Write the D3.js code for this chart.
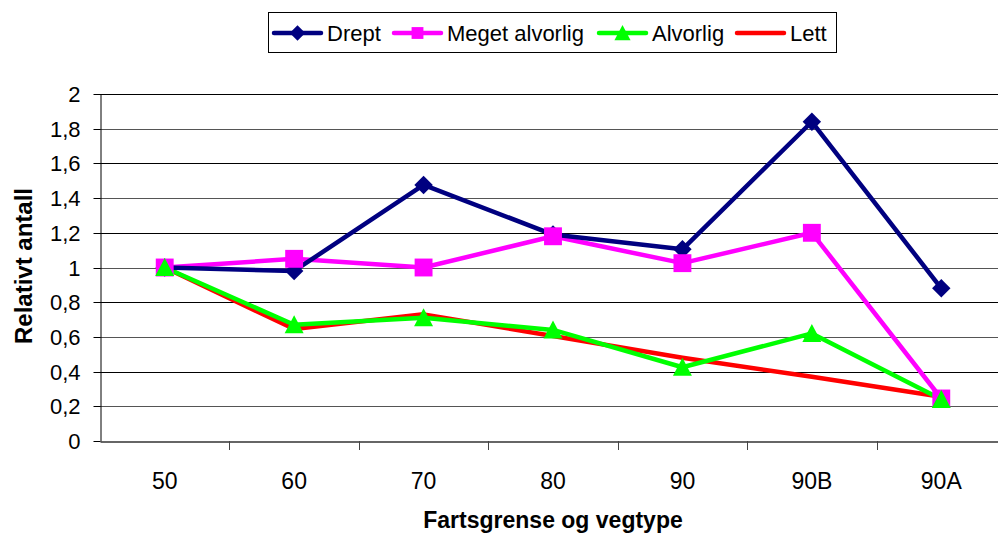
<!DOCTYPE html>
<html>
<head>
<meta charset="utf-8">
<script src="https://cdn.jsdelivr.net/npm/d3@7"></script>
<style>
body { margin: 0; background: #fff; }
svg { display: block; font-family: "Liberation Sans", Arial, sans-serif; }
</style>
</head>
<body>
<script>
// data
var categories = ["50", "60", "70", "80", "90", "90B", "90A"]
var drept = [1, 0.98, 1.476, 1.19, 1.105, 1.84, 0.88]
var megetAlvorlig = [1, 1.05, 1.0, 1.18, 1.025, 1.2, 0.245]
var alvorlig = [1, 0.67, 0.71, 0.64, 0.425, 0.62, 0.24]
var lett = [1, 0.645, 0.73, 0.605, 0.48, 0.37, 0.255]
var yTicks = [0, 0.2, 0.4, 0.6, 0.8, 1, 1.2, 1.4, 1.6, 1.8, 2]

// diamond = square turned 45 degrees
var diamond = {
	draw: function(ctx, size) {
		var r = Math.sqrt(size / 2)
		ctx.moveTo(0, -r); ctx.lineTo(r, 0); ctx.lineTo(0, r); ctx.lineTo(-r, 0); ctx.closePath()
	}
}
var triangle = {
	draw: function(ctx, size) {
		var w = Math.sqrt(size * 2) / 2
		ctx.moveTo(0, -w); ctx.lineTo(w, w * 0.9); ctx.lineTo(-w, w * 0.9); ctx.closePath()
	}
}

var series = [
	{ name: "Drept", values: drept, color: "#000080", marker: diamond, size: 170, legSize: 120 },
	{ name: "Meget alvorlig", values: megetAlvorlig, color: "#ff00ff", marker: d3.symbolSquare, size: 320, legSize: 140 },
	{ name: "Alvorlig", values: alvorlig, color: "#00ff00", marker: triangle, size: 180, legSize: 130 },
	{ name: "Lett", values: lett, color: "#ff0000", marker: null }
]

var width = 998, height = 535
var svg = d3.select("body").append("svg").attr("width", width).attr("height", height)

var x = d3.scaleBand().domain(categories).range([100, 1006])
var y = d3.scaleLinear().domain([0, 2]).range([441, 94])

// gridlines
svg.append("g").selectAll("line").data(yTicks.slice(1)).enter().append("line")
	.attr("x1", 100).attr("x2", width)
	.attr("y1", function(d) { return Math.round(y(d)) + 0.5 })
	.attr("y2", function(d) { return Math.round(y(d)) + 0.5 })
	.attr("stroke", function(d, i) { return i % 2 ? "#000" : "#555" })
	.attr("stroke-width", 1)

// y axis
var fmt = function(d) { return String(d).replace(".", ",") }
var yAxis = svg.append("g").attr("transform", "translate(100.5,0)")
	.call(d3.axisLeft(y).tickValues(yTicks).tickFormat(fmt).tickSize(7).tickSizeOuter(0))
yAxis.select(".domain").attr("stroke", "#000")
yAxis.selectAll("text").attr("font-size", 22).attr("fill", "#000").attr("x", -20).attr("dy", "0.36em")
yAxis.selectAll(".tick line").attr("stroke", "#000")
yAxis.selectAll(".tick").attr("transform", function(d) { return "translate(0," + (Math.round(y(d)) + 0.5) + ")" })

// x axis
var xAxis = svg.append("g").attr("transform", "translate(0,441.5)")
	.call(d3.axisBottom(x).tickSize(0).tickSizeOuter(0))
xAxis.select(".domain").attr("stroke", "#333").attr("stroke-width", 1.5)
xAxis.selectAll("text").attr("font-size", 23).attr("fill", "#000").attr("dy", 0).attr("y", 47)
svg.append("g").selectAll("line").data(categories.slice(1)).enter().append("line")
	.attr("x1", function(d) { return Math.round(x(d)) + 0.5 })
	.attr("x2", function(d) { return Math.round(x(d)) + 0.5 })
	.attr("y1", 441).attr("y2", 450).attr("stroke", "#444")

// axis titles
svg.append("text").attr("transform", "translate(32,266) rotate(-90)")
	.attr("text-anchor", "middle").attr("font-weight", "bold").attr("font-size", 24)
	.text("Relativt antall")
svg.append("text").attr("x", 553).attr("y", 528)
	.attr("text-anchor", "middle").attr("font-weight", "bold").attr("font-size", 23)
	.text("Fartsgrense og vegtype")

// lines and markers, drawn back to front
var cx = function(d, i) { return x(categories[i]) + x.bandwidth() / 2 }
var line = d3.line().x(cx).y(function(d) { return y(d) })
var plot = svg.append("g")
series.slice().reverse().forEach(function(s) {
	plot.append("path").attr("d", line(s.values))
		.attr("fill", "none").attr("stroke", s.color).attr("stroke-width", 4.5)
		.attr("stroke-linejoin", "round")
})
series.forEach(function(s) {
	if (!s.marker) return
	plot.selectAll(null).data(s.values).enter().append("path")
		.attr("d", d3.symbol().type(s.marker).size(s.size))
		.attr("transform", function(d, i) { return "translate(" + cx(d, i) + "," + y(d) + ")" })
		.attr("fill", s.color)
})

// legend
var legend = svg.append("g")
legend.append("rect").attr("x", 268.5).attr("y", 12.5).attr("width", 568).attr("height", 40)
	.attr("fill", "#fff").attr("stroke", "#000")
var legX = [274, 394, 599, 737]
series.forEach(function(s, i) {
	var g = legend.append("g").attr("transform", "translate(" + legX[i] + ",33)")
	g.append("line").attr("x1", 0).attr("x2", 47).attr("stroke", s.color).attr("stroke-width", 4.5)
		.attr("stroke-linecap", "round")
	if (s.marker) g.append("path").attr("d", d3.symbol().type(s.marker).size(s.legSize))
		.attr("transform", "translate(23.5,0)").attr("fill", s.color)
	g.append("text").attr("x", 53).attr("y", 8).attr("font-size", 22).text(s.name)
})
</script>
</body>
</html>
